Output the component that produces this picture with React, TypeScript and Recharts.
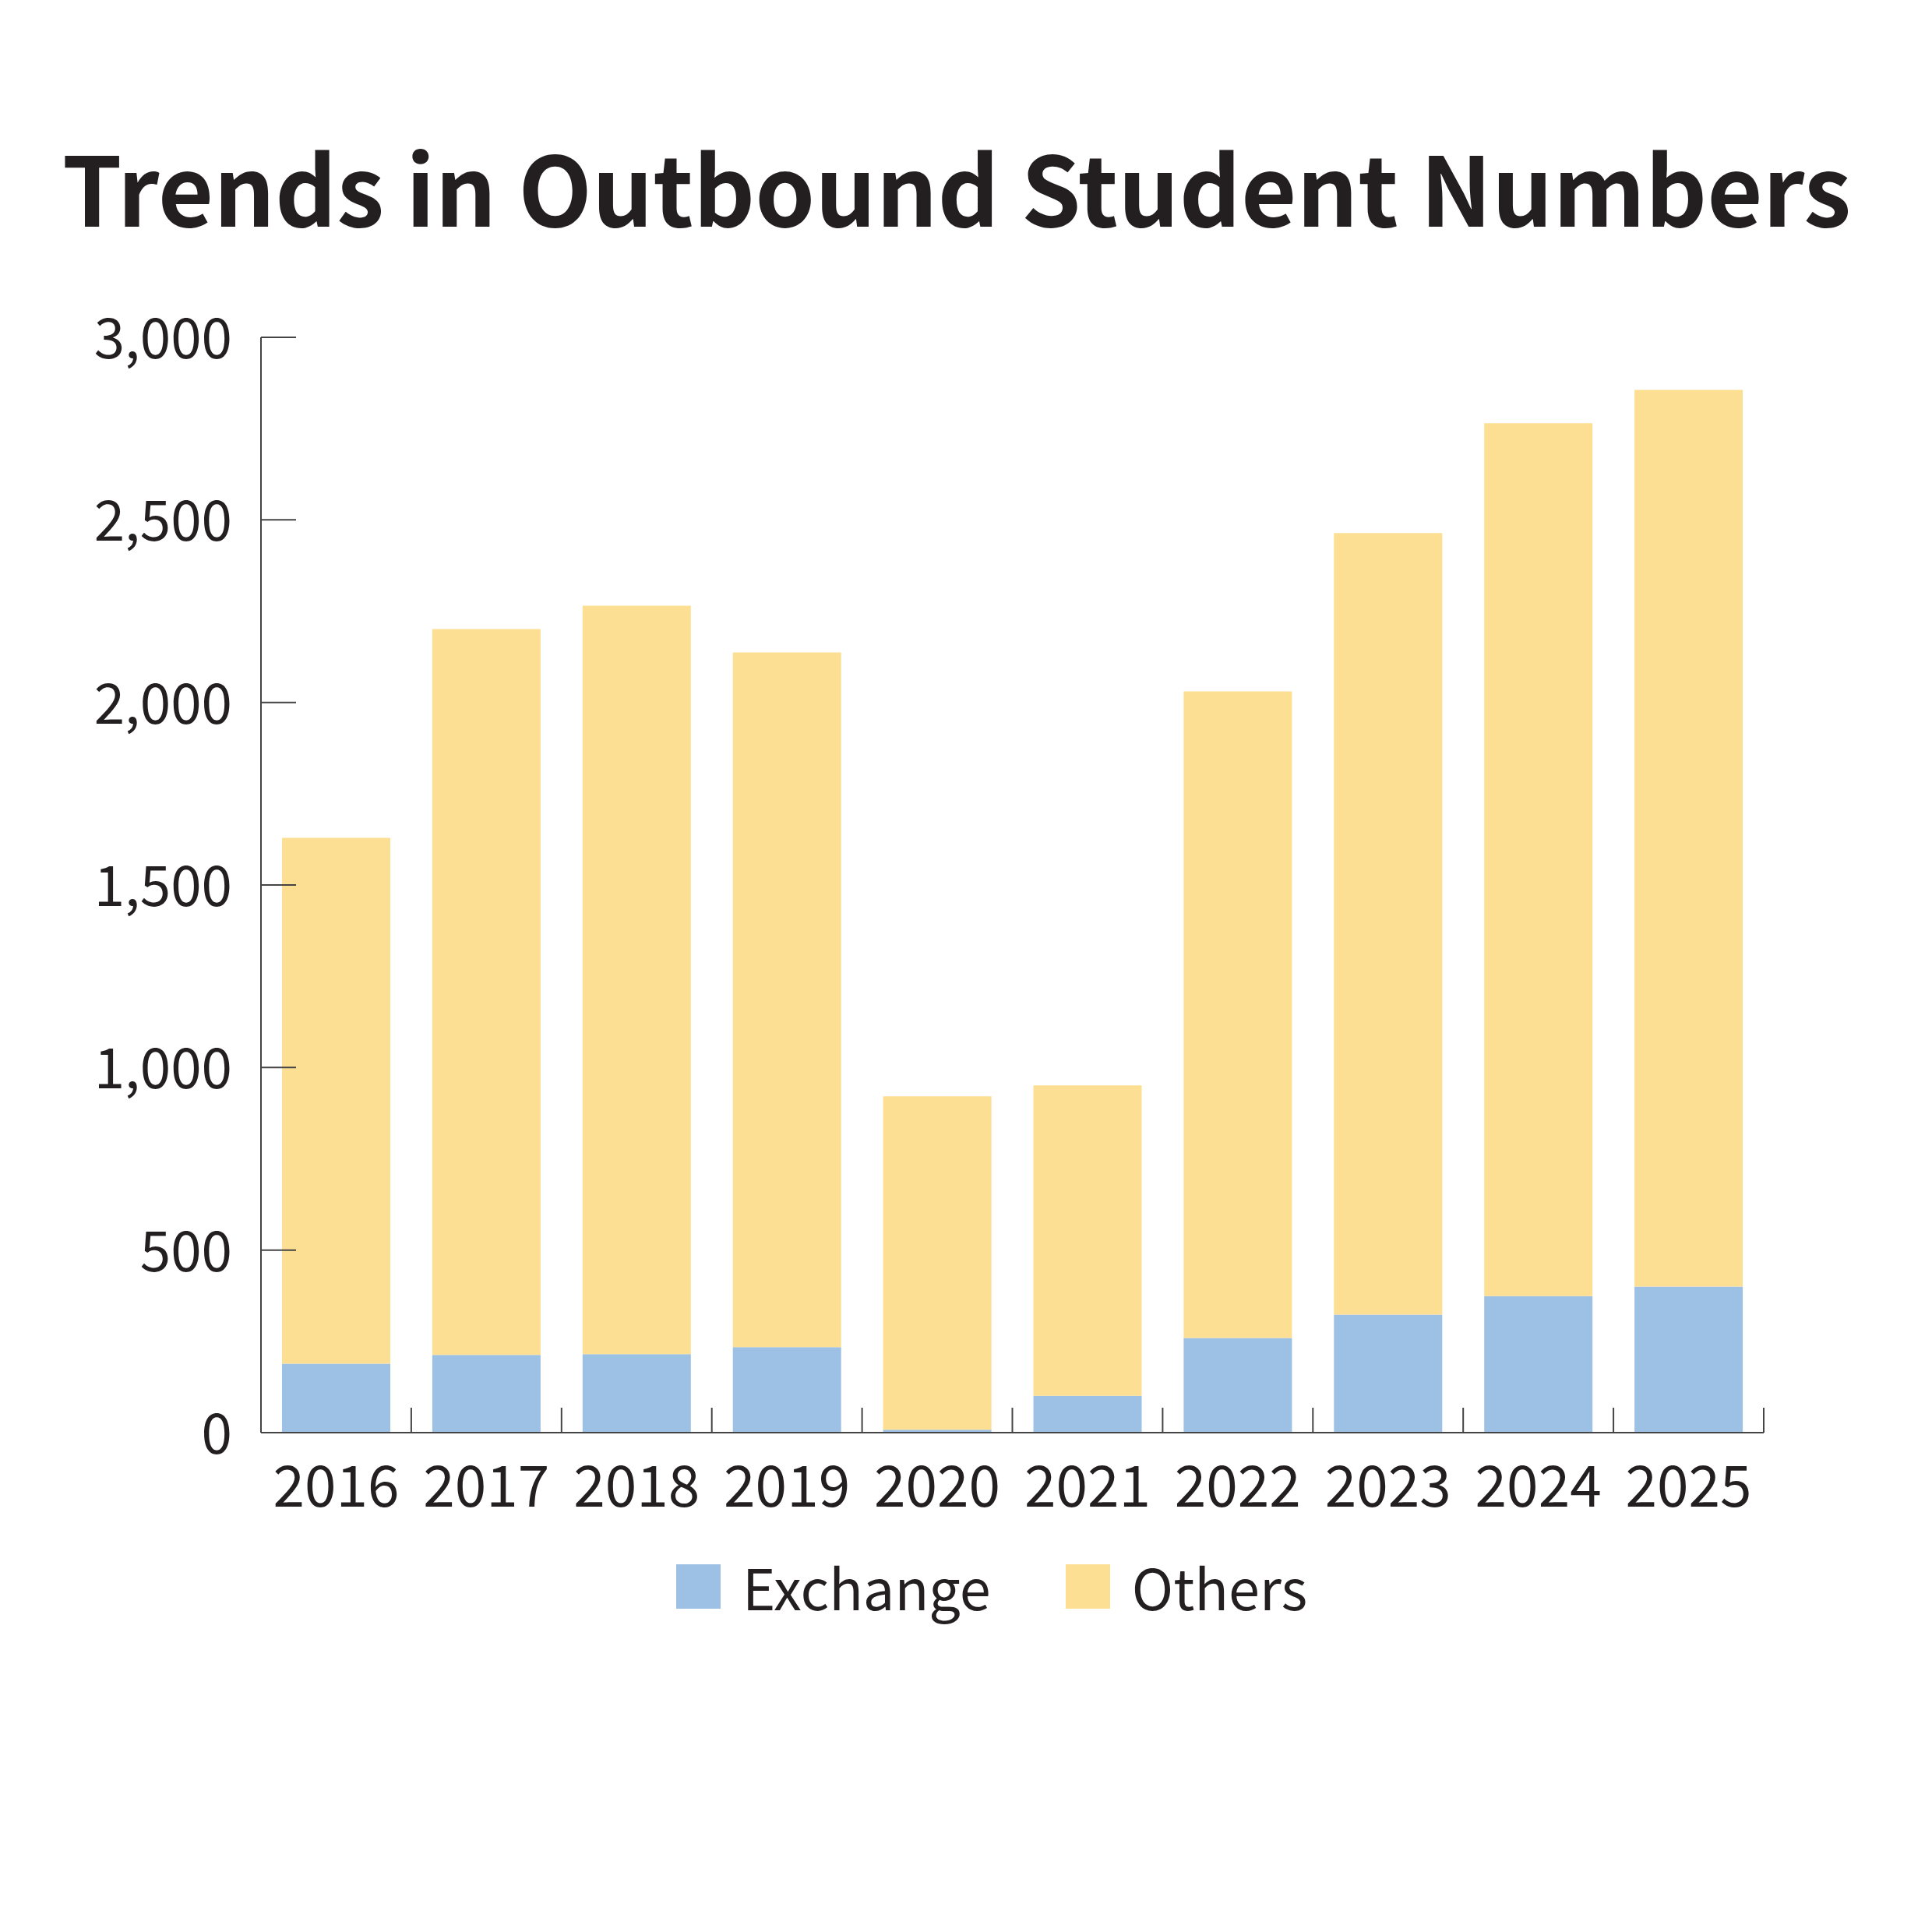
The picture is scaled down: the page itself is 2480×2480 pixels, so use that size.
import React from 'react'
import { BarChart, Bar, XAxis, YAxis, Legend } from 'recharts'

const YEARS = ['2016', '2017', '2018', '2019', '2020', '2021', '2022', '2023', '2024', '2025']
const EXCHANGE = [189, 213, 215, 234, 8, 101, 259, 323, 374, 400]
const OTHERS = [1440, 1988, 2050, 1903, 913, 850, 1771, 2141, 2391, 2456]
const Y_TICKS = [0, 500, 1000, 1500, 2000, 2500, 3000]

const FONT = '"Noto Sans CJK JP", "Noto Sans", sans-serif'
const TEXT = '#231f20'
const AXIS = '#444'

// layout
const W = 2480
const H = 2480
const PLOT_LEFT = 335
const PLOT_RIGHT = 2264
const PLOT_TOP = 433
const PLOT_BOTTOM = 1839
const X_AXIS_H = 150
const BAND = (PLOT_RIGHT - PLOT_LEFT) / YEARS.length

const data = YEARS.map((year, i) => ({ year, exchange: EXCHANGE[i], others: OTHERS[i] }))

const YTick = ({ y, payload }: any) => (
  <g>
    <line x1={PLOT_LEFT} x2={PLOT_LEFT + 45} y1={y} y2={y} stroke={AXIS} strokeWidth={2} />
    <text
      x={PLOT_LEFT - 37}
      y={y + 27}
      textAnchor="end"
      fontSize={71}
      fontFamily={FONT}
      fill={TEXT}
    >
      {payload.value.toLocaleString('en-US')}
    </text>
  </g>
)

const XTick = ({ x, payload }: any) => (
  <g>
    <line
      x1={x + BAND / 2}
      x2={x + BAND / 2}
      y1={PLOT_BOTTOM}
      y2={PLOT_BOTTOM - 32}
      stroke={AXIS}
      strokeWidth={2}
    />
    <text x={x} y={PLOT_BOTTOM + 95} textAnchor="middle" fontSize={73} fontFamily={FONT} fill={TEXT}>
      {payload.value}
    </text>
  </g>
)

const LegendContent = ({ payload }: any) => (
  <div style={{ display: 'flex', alignItems: 'center', fontFamily: FONT }}>
    {payload.map((entry: any, i: number) => (
      <div key={`legend-${i}`} style={{ display: 'flex', alignItems: 'center', marginRight: 96 }}>
        <div style={{ width: 57, height: 57, background: entry.color, marginRight: 28 }} />
        <span style={{ fontSize: 72, color: TEXT, lineHeight: '72px' }}>{entry.value}</span>
      </div>
    ))}
  </div>
)

export default function App() {
  return (
    <div style={{ position: 'absolute', left: 0, top: 0, width: W, height: H, background: '#fff' }}>
      <svg width={W} height={400} style={{ position: 'absolute', left: 0, top: 0 }}>
        <text
          x={1228}
          y={291}
          textAnchor="middle"
          fontSize={123}
          fontWeight={700}
          fontFamily={FONT}
          fill={TEXT}
        >
          Trends in Outbound Student Numbers
        </text>
      </svg>
      <div style={{ position: 'absolute', left: 0, top: 0 }}>
        <BarChart
          width={W}
          height={H}
          data={data}
          barCategoryGap="14%"
          margin={{ top: PLOT_TOP, right: W - PLOT_RIGHT, left: 0, bottom: H - PLOT_BOTTOM - X_AXIS_H }}
        >
          <XAxis
            dataKey="year"
            height={X_AXIS_H}
            axisLine={{ stroke: AXIS, strokeWidth: 2 }}
            tickLine={false}
            tick={<XTick />}
            interval={0}
          />
          <YAxis
            width={PLOT_LEFT}
            domain={[0, 3000]}
            ticks={Y_TICKS}
            axisLine={{ stroke: AXIS, strokeWidth: 2 }}
            tickLine={false}
            tick={<YTick />}
            interval={0}
          />
          <Legend
            layout="horizontal"
            align="center"
            verticalAlign="middle"
            content={<LegendContent />}
            wrapperStyle={{ left: 868, top: 2000, width: 1000 }}
          />
          <Bar dataKey="exchange" name="Exchange" stackId="a" fill="#9dc0e5" isAnimationActive={false} />
          <Bar dataKey="others" name="Others" stackId="a" fill="#fddf93" isAnimationActive={false} />
        </BarChart>
      </div>
    </div>
  )
}
